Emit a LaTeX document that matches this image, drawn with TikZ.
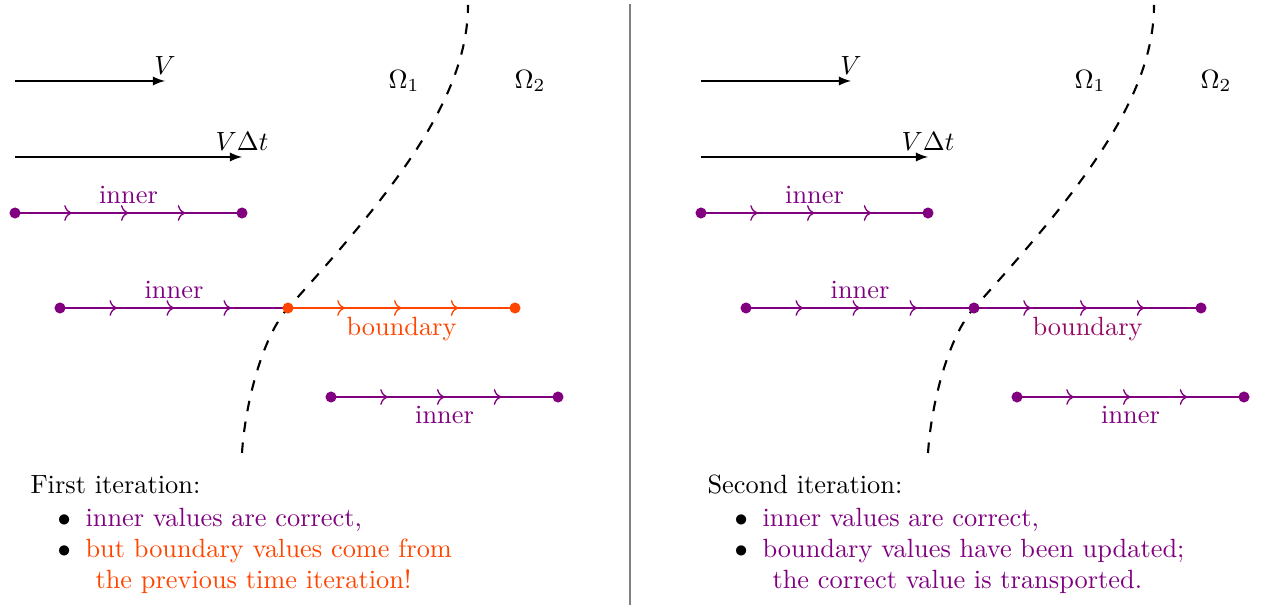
\documentclass[tikz,border=0pt]{standalone}
\usetikzlibrary{decorations.markings,arrows.meta}
\definecolor{mypurple}{RGB}{128,0,128}
\definecolor{myorange}{RGB}{255,69,0}
\definecolor{mybound}{RGB}{150,10,100}
\tikzset{
  seg/.style={line width=0.5pt, postaction={decorate}, decoration={markings,
     mark=at position 0.25 with {\arrow{To[scale=1.05]}},
     mark=at position 0.5 with {\arrow{To[scale=1.05]}},
     mark=at position 0.75 with {\arrow{To[scale=1.05]}}}},
  dot/.style={circle, fill=#1, inner sep=0pt, minimum size=4.2pt},
  vec/.style={line width=0.6pt, -latex},
  iface/.style={line width=0.8pt, dash pattern=on 4pt off 4pt},
  txt/.style={anchor=base west, inner sep=0pt},
}
\begin{document}
\begin{tikzpicture}[x=0.013333cm,y=-0.013333cm]
\useasboundingbox (0,0) rectangle (1262,605);
% divider
\draw[gray, line width=0.9pt] (630,4) -- (630,605);

\foreach \o/\p in {0/L,686/R}{
  % velocity arrows
  \coordinate (\p v0) at (15+\o,81);
  \coordinate (\p v1) at (165+\o,81);
  \coordinate (\p w0) at (15+\o,157);
  \coordinate (\p w1) at (242+\o,157);
  \draw[vec] (\p v0) -- (\p v1) node[above, inner sep=2pt] {$V$};
  \draw[vec] (\p w0) -- (\p w1) node[above, inner sep=2pt] {$V\Delta t$};
  % domain labels
  \node (\p om1) at (404+\o,81) {$\Omega_1$};
  \node (\p om2) at (530+\o,81) {$\Omega_2$};
  % interface
  \coordinate (\p i0) at (242+\o,453);
  \coordinate (\p b1) at (288+\o,308);
  \coordinate (\p i1) at (468+\o,5);
  \draw[iface] (\p i0) .. controls (245+\o,405) and (262+\o,337) .. (\p b1)
     .. controls (390+\o,195) and (468+\o,100) .. (\p i1);
  % segment 1
  \node[dot=mypurple] (\p a0) at (15+\o,213) {};
  \node[dot=mypurple] (\p a1) at (242+\o,213) {};
  \draw[seg, mypurple] (\p a0.center) -- node[above, text=mypurple] {inner} (\p a1.center);
  % segment 3
  \node[dot=mypurple] (\p c0) at (331+\o,397) {};
  \node[dot=mypurple] (\p c1) at (558+\o,397) {};
  \draw[seg, mypurple] (\p c0.center) -- node[below, text=mypurple] {inner} (\p c1.center);
  % segment 2 left
  \node[dot=mypurple] (\p b0) at (60+\o,308) {};
  \coordinate (\p b2) at (515+\o,308);
  \draw[seg, mypurple] (\p b0.center) -- node[above, text=mypurple] {inner} (\p b1);
}
% segment 2 right halves
\draw[seg, myorange] (Lb1) -- node[below] {boundary} (Lb2);
\node[dot=myorange] at (Lb1) {};
\node[dot=myorange] at (Lb2) {};
\draw[seg, mypurple] (Rb1) -- node[below, text=mybound] {boundary} (Rb2);
\node[dot=mypurple] at (Rb1) {};
\node[dot=mypurple] at (Rb2) {};

% texts left
\node[txt] (t1) at (30,493) {First iteration:};
\node[txt] (b1) at (57,526) {$\bullet$};
\node[txt, text=mypurple] (t2) at (85,526) {inner values are correct,};
\node[txt] (b2) at (57,557) {$\bullet$};
\node[txt, text=myorange] (t3) at (85,557) {but boundary values come from};
\node[txt, text=myorange] (t4) at (95,588) {the previous time iteration!};
% texts right
\node[txt] (s1) at (707,493) {Second iteration:};
\node[txt] (c1) at (734,526) {$\bullet$};
\node[txt, text=mypurple] (s2) at (762,526) {inner values are correct,};
\node[txt] (c2) at (734,557) {$\bullet$};
\node[txt, text=mypurple] (s3) at (762,557) {boundary values have been updated;};
\node[txt, text=mypurple] (s4) at (772,588) {the correct value is transported.};
\end{tikzpicture}
\end{document}
